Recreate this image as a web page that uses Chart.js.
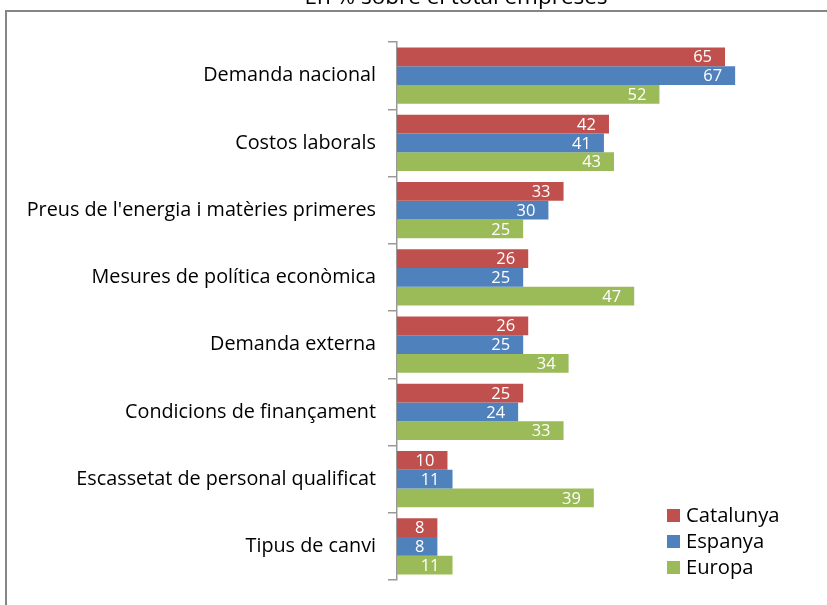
<!DOCTYPE html>
<html><head><meta charset="utf-8">
<script src="https://cdn.jsdelivr.net/npm/chart.js@4"></script>
<style>html,body{margin:0;padding:0;background:#fff}#wrap{width:827px;height:605px}</style>
</head><body><div id="wrap"><canvas id="c" width="827" height="605"></canvas></div>
<script>
const categories = ["Demanda nacional","Costos laborals","Preus de l'energia i matèries primeres","Mesures de política econòmica","Demanda externa","Condicions de finançament","Escassetat de personal qualificat","Tipus de canvi"];
const catalunya = [65,42,33,26,26,25,10,8];
const espanya = [67,41,30,25,25,24,11,8];
const europa = [52,43,25,47,34,33,39,11];
const seriesNames = ["Catalunya","Espanya","Europa"];
const titleText = "En % sobre el total empreses";
const colors = ["#C0504D","#4F81BD","#9BBB59"];
const FONT = "'Open Sans', sans-serif";

const decor = {
  id:'decor',
  afterDraw(chart){
    const ctx = chart.ctx;
    ctx.save();
    // border
    ctx.strokeStyle = '#868686'; ctx.lineWidth = 2;
    ctx.strokeRect(6, 11, 900, 700);
    // title
    ctx.fillStyle = '#000'; ctx.font = "22.5px " + FONT;
    ctx.textAlign = 'center'; ctx.textBaseline = 'alphabetic';
    ctx.fillText(titleText, 456, 4);
    // value labels
    ctx.font = "16.5px " + FONT; ctx.fillStyle = '#fff';
    ctx.textAlign = 'right'; ctx.textBaseline = 'middle';
    chart.data.datasets.forEach((ds, i) => {
      chart.getDatasetMeta(i).data.forEach((bar, j) => {
        ctx.fillText(String(ds.data[j]), bar.x - 13, bar.y + 1);
      });
    });
    // legend
    ctx.font = "20.2px " + FONT; ctx.textAlign = 'left';
    chart.data.datasets.forEach((ds, i) => {
      const y = 515 + i * 26;
      ctx.fillStyle = ds.backgroundColor;
      ctx.fillRect(667, y - 6, 13, 13);
      ctx.fillStyle = '#000';
      ctx.fillText(ds.label, 686, y + 1);
    });
    ctx.restore();
  }
};

new Chart(document.getElementById('c'), {
  type: 'bar',
  data: {
    labels: categories,
    datasets: [
      {label: seriesNames[0], data: catalunya, backgroundColor: colors[0]},
      {label: seriesNames[1], data: espanya, backgroundColor: colors[1]},
      {label: seriesNames[2], data: europa, backgroundColor: colors[2]}
    ]
  },
  options: {
    indexAxis: 'y',
    responsive: false,
    animation: false,
    layout: {padding: {left: 0, right: 1, top: 42, bottom: 25}},
    datasets: {bar: {categoryPercentage: 0.84, barPercentage: 1.0}},
    plugins: {legend: {display: false}, title: {display: false}, tooltip: {enabled: false}},
    scales: {
      x: {display: false, min: 0, max: 85},
      y: {
        afterFit(scale){ scale.width = 397; },
        grid: {offset: true, drawOnChartArea: false, tickLength: 9, color: '#999', lineWidth: 1.5},
        border: {display: true, color: '#999', width: 1.5},
        ticks: {color: '#000', padding: 12, font: {family: FONT, size: 19.8}}
      }
    }
  },
  plugins: [decor]
});
</script>
</body></html>
